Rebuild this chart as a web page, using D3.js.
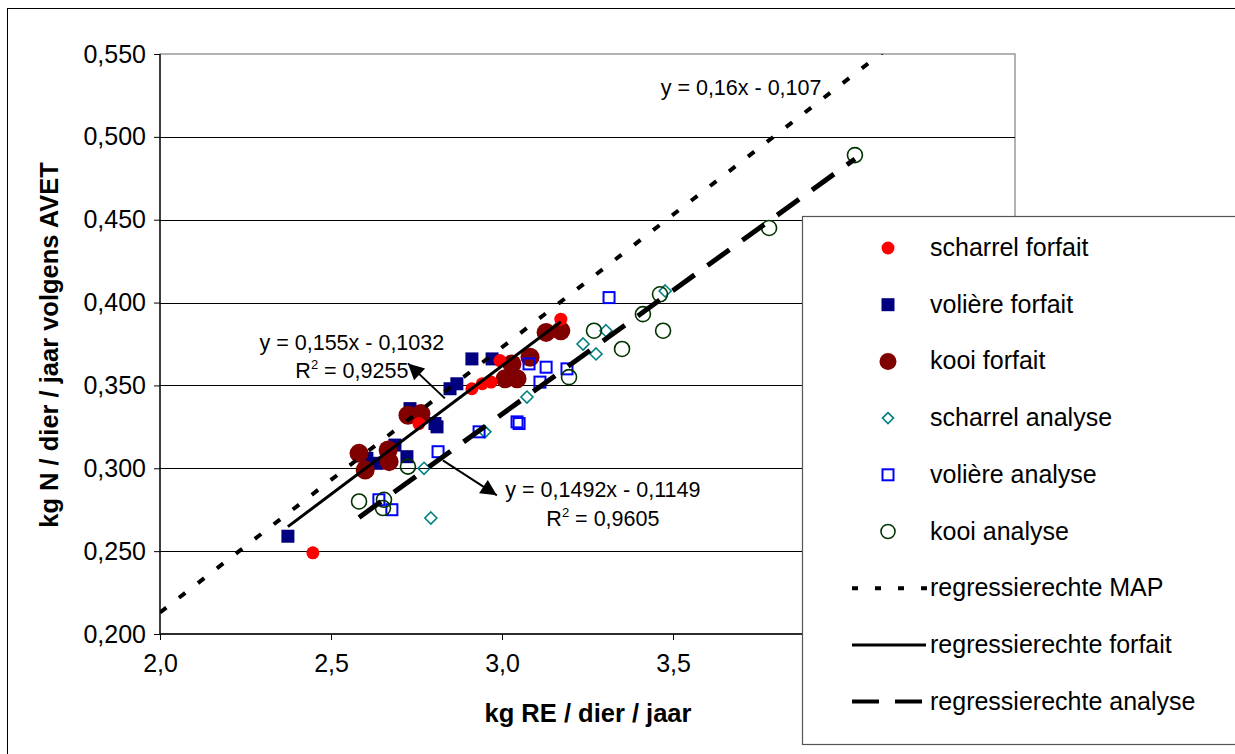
<!DOCTYPE html>
<html>
<head>
<meta charset="utf-8">
<script src="https://cdn.jsdelivr.net/npm/d3@7/dist/d3.min.js"></script>
<style>
  html, body { margin: 0; padding: 0; background: #fff; }
  svg { display: block; font-family: "Liberation Sans", Arial, sans-serif; }
</style>
</head>
<body>
<svg id="chart" width="1235" height="754"></svg>
<script>
// Measured data: kg RE per animal per year (x) vs kg N per animal per year (y)
const scharrelForfait = [
  [2.447, 0.249], [2.757, 0.327], [2.912, 0.348], [2.942, 0.351],
  [2.968, 0.352], [2.994, 0.365], [3.172, 0.390]
];
const voliereForfait = [
  [2.374, 0.259], [2.605, 0.306], [2.635, 0.303], [2.687, 0.314],
  [2.722, 0.307], [2.731, 0.336], [2.804, 0.327], [2.810, 0.325],
  [2.848, 0.348], [2.868, 0.351], [2.912, 0.366], [2.971, 0.366]
];
const kooiForfait = [
  [2.582, 0.309], [2.600, 0.299], [2.667, 0.311], [2.670, 0.304],
  [2.725, 0.332], [2.763, 0.333], [3.009, 0.354], [3.044, 0.354],
  [3.029, 0.363], [3.082, 0.367], [3.129, 0.382], [3.172, 0.383]
];
const scharrelAnalyse = [
  [2.772, 0.300], [2.792, 0.270], [2.950, 0.322], [3.073, 0.343],
  [3.237, 0.375], [3.275, 0.369], [3.304, 0.383], [3.477, 0.407]
];
const voliereAnalyse = [
  [2.640, 0.281], [2.678, 0.275], [2.813, 0.310], [2.933, 0.322],
  [3.044, 0.328], [3.050, 0.327], [3.079, 0.363], [3.111, 0.352],
  [3.129, 0.361], [3.190, 0.360], [3.313, 0.403]
];
const kooiAnalyse = [
  [2.582, 0.280], [2.655, 0.281], [2.652, 0.276], [2.725, 0.301],
  [3.196, 0.355], [3.269, 0.383], [3.351, 0.372], [3.412, 0.393],
  [3.462, 0.405], [3.471, 0.383], [3.781, 0.445], [4.032, 0.489]
];

// Regression lines: slope, intercept, x range
const regMAP = { slope: 0.16, intercept: -0.107, x0: 2.0, x1: 4.5 };
const regForfait = { slope: 0.155, intercept: -0.1032, x0: 2.374, x1: 3.172 };
const regAnalyse = { slope: 0.1492, intercept: -0.1149, x0: 2.582, x1: 4.032 };

// labelled x ticks (4,0 and 4,5 sit under the legend box)
const xTicks = [2.0, 2.5, 3.0, 3.5];
const yTicks = [0.20, 0.25, 0.30, 0.35, 0.40, 0.45, 0.50, 0.55];

const legendLabels = [
  "scharrel forfait", "volière forfait", "kooi forfait",
  "scharrel analyse", "volière analyse", "kooi analyse",
  "regressierechte MAP", "regressierechte forfait", "regressierechte analyse"
];

const svg = d3.select("#chart");
const plot = { left: 160, right: 1015, top: 54, bottom: 634 };

const x = d3.scaleLinear().domain([2.0, 4.5]).range([plot.left, plot.right]);
const y = d3.scaleLinear().domain([0.20, 0.55]).range([plot.bottom, plot.top]);

const comma = f => s => d3.format(f)(s).replace(".", ",");

// outer chart frame
svg.append("rect").attr("x", 7.5).attr("y", 8.5).attr("width", 1400).attr("height", 900)
  .attr("fill", "#fff").attr("stroke", "#000").attr("stroke-width", 1);

// plot area
svg.append("rect").attr("x", plot.left).attr("y", plot.top)
  .attr("width", plot.right - plot.left).attr("height", plot.bottom - plot.top)
  .attr("fill", "#fff").attr("stroke", "#808080").attr("stroke-width", 1.2);

// horizontal gridlines
svg.append("g").selectAll("line")
  .data(yTicks.filter(t => t > 0.2 && t < 0.55))
  .join("line")
  .attr("x1", plot.left).attr("x2", plot.right)
  .attr("y1", d => Math.round(y(d)) + 0.5).attr("y2", d => Math.round(y(d)) + 0.5)
  .attr("stroke", "#000").attr("stroke-width", 1);

// axes
const yAxis = d3.axisLeft(y).tickValues(yTicks).tickFormat(comma(".3f")).tickSize(6).tickPadding(8);
const xAxis = d3.axisBottom(x).tickValues(xTicks).tickFormat(comma(".1f")).tickSize(6).tickPadding(14);

const gy = svg.append("g").attr("transform", `translate(${plot.left},0)`).call(yAxis);
const gx = svg.append("g").attr("transform", `translate(0,${plot.bottom})`).call(xAxis);
[gx, gy].forEach(g => {
  g.attr("font-size", 25).attr("font-family", "Liberation Sans, Arial, sans-serif");
  g.select(".domain").attr("stroke", "#000").attr("stroke-width", 1.3);
  g.selectAll(".tick line").attr("stroke", "#000");
  g.selectAll(".tick text").attr("fill", "#000");
});
gx.select(".domain").attr("d", `M${plot.left},0H${plot.right}`);
gy.select(".domain").attr("d", `M0,${plot.top}V${plot.bottom}`);

// axis titles
svg.append("text").attr("x", 588).attr("y", 722).attr("text-anchor", "middle")
  .attr("font-size", 25.5).attr("font-weight", "bold").text("kg RE / dier / jaar");
svg.append("text").attr("transform", "translate(58,345) rotate(-90)").attr("text-anchor", "middle")
  .attr("font-size", 25.5).attr("font-weight", "bold").text("kg N / dier / jaar volgens AVET");

// clip for marks
svg.append("clipPath").attr("id", "plotclip").append("rect")
  .attr("x", plot.left).attr("y", plot.top)
  .attr("width", plot.right - plot.left).attr("height", plot.bottom - plot.top);

const marks = svg.append("g").attr("clip-path", "url(#plotclip)");

const diamond = r => `M0,${-r}L${r},0L0,${r}L${-r},0Z`;

// series
marks.append("g").selectAll("rect").data(voliereForfait).join("rect")
  .attr("x", d => x(d[0]) - 6.5).attr("y", d => y(d[1]) - 6.5)
  .attr("width", 13).attr("height", 13).attr("fill", "#000080");
marks.append("g").selectAll("circle").data(kooiForfait).join("circle")
  .attr("cx", d => x(d[0])).attr("cy", d => y(d[1])).attr("r", 9.5).attr("fill", "#800000");
marks.append("g").selectAll("circle").data(scharrelForfait).join("circle")
  .attr("cx", d => x(d[0])).attr("cy", d => y(d[1])).attr("r", 6.5).attr("fill", "#ff0000");
marks.append("g").selectAll("path").data(scharrelAnalyse).join("path")
  .attr("transform", d => `translate(${x(d[0])},${y(d[1])})`)
  .attr("d", diamond(6)).attr("fill", "none").attr("stroke", "#008080").attr("stroke-width", 1.6);
marks.append("g").selectAll("rect").data(voliereAnalyse).join("rect")
  .attr("x", d => x(d[0]) - 5.5).attr("y", d => y(d[1]) - 5.5)
  .attr("width", 11).attr("height", 11).attr("fill", "none")
  .attr("stroke", "#0000ff").attr("stroke-width", 2);
marks.append("g").selectAll("circle").data(kooiAnalyse).join("circle")
  .attr("cx", d => x(d[0])).attr("cy", d => y(d[1])).attr("r", 7.5)
  .attr("fill", "none").attr("stroke", "#003300").attr("stroke-width", 1.6);

// regression lines
const lineStyles = [
  { reg: regMAP, width: 4, dash: "8,16" },
  { reg: regForfait, width: 3, dash: null },
  { reg: regAnalyse, width: 5, dash: "27,16" }
];
lineStyles.forEach(s => {
  const r = s.reg;
  marks.append("line")
    .attr("x1", x(r.x0)).attr("y1", y(r.slope * r.x0 + r.intercept))
    .attr("x2", x(r.x1)).attr("y2", y(r.slope * r.x1 + r.intercept))
    .attr("stroke", "#000").attr("stroke-width", s.width)
    .attr("stroke-dasharray", s.dash);
});

// equation labels with arrows
svg.append("defs").append("marker").attr("id", "arrowhead")
  .attr("viewBox", "0 0 10 10").attr("refX", 10).attr("refY", 5)
  .attr("markerWidth", 10).attr("markerHeight", 8).attr("markerUnits", "strokeWidth")
  .attr("orient", "auto")
  .append("path").attr("d", "M0,0L10,5L0,10Z").attr("fill", "#000");

const eqFont = 21.5;
const eqText = (cx, cy, str) => svg.append("text").attr("x", x(cx)).attr("y", y(cy))
  .attr("text-anchor", "middle").attr("font-size", eqFont).text(str);
const r2Text = (cx, cy, val) => {
  const t = svg.append("text").attr("x", x(cx)).attr("y", y(cy))
    .attr("text-anchor", "middle").attr("font-size", eqFont);
  t.append("tspan").text("R");
  t.append("tspan").attr("dy", -9).attr("font-size", 13).text("2");
  t.append("tspan").attr("dy", 9).text(" = " + val);
};
const arrow = (xa, ya, xb, yb) => svg.append("line")
  .attr("x1", x(xa)).attr("y1", y(ya)).attr("x2", x(xb)).attr("y2", y(yb))
  .attr("stroke", "#000").attr("stroke-width", 2).attr("marker-end", "url(#arrowhead)");

eqText(3.699, 0.5253, "y = 0,16x - 0,107");

eqText(2.561, 0.3711, "y = 0,155x - 0,1032");
r2Text(2.561, 0.3542, "0,9255");
arrow(2.833, 0.3422, 2.725, 0.3633);

eqText(3.295, 0.2825, "y = 0,1492x - 0,1149");
r2Text(3.295, 0.2651, "0,9605");
arrow(2.827, 0.3048, 2.985, 0.2837);

// legend
const lg = svg.append("g");
lg.append("rect").attr("x", 802.5).attr("y", 216.5).attr("width", 500).attr("height", 528)
  .attr("fill", "#fff").attr("stroke", "#555").attr("stroke-width", 1.2);
const rowY = i => 248 + i * 56.7;
const symX = 888;
legendLabels.forEach((t, i) => {
  lg.append("text").attr("x", 930).attr("y", rowY(i) + 8).attr("font-size", 25).text(t);
});
lg.append("circle").attr("cx", symX).attr("cy", rowY(0)).attr("r", 6.5).attr("fill", "#ff0000");
lg.append("rect").attr("x", symX - 6.5).attr("y", rowY(1) - 6.5).attr("width", 13).attr("height", 13).attr("fill", "#000080");
lg.append("circle").attr("cx", symX).attr("cy", rowY(2)).attr("r", 8.5).attr("fill", "#800000");
lg.append("path").attr("transform", `translate(${symX},${rowY(3)})`).attr("d", diamond(5.5))
  .attr("fill", "none").attr("stroke", "#008080").attr("stroke-width", 1.6);
lg.append("rect").attr("x", symX - 5.5).attr("y", rowY(4) - 5.5).attr("width", 11).attr("height", 11)
  .attr("fill", "none").attr("stroke", "#0000ff").attr("stroke-width", 2);
lg.append("circle").attr("cx", symX).attr("cy", rowY(5)).attr("r", 7)
  .attr("fill", "none").attr("stroke", "#003300").attr("stroke-width", 1.6);
lg.append("line").attr("x1", 852).attr("x2", 928).attr("y1", rowY(6)).attr("y2", rowY(6))
  .attr("stroke", "#000").attr("stroke-width", 4).attr("stroke-dasharray", "6,17");
lg.append("line").attr("x1", 852).attr("x2", 926).attr("y1", rowY(7)).attr("y2", rowY(7))
  .attr("stroke", "#000").attr("stroke-width", 3);
lg.append("line").attr("x1", 852).attr("x2", 922).attr("y1", rowY(8)).attr("y2", rowY(8))
  .attr("stroke", "#000").attr("stroke-width", 4).attr("stroke-dasharray", "27,16");
</script>
</body>
</html>
